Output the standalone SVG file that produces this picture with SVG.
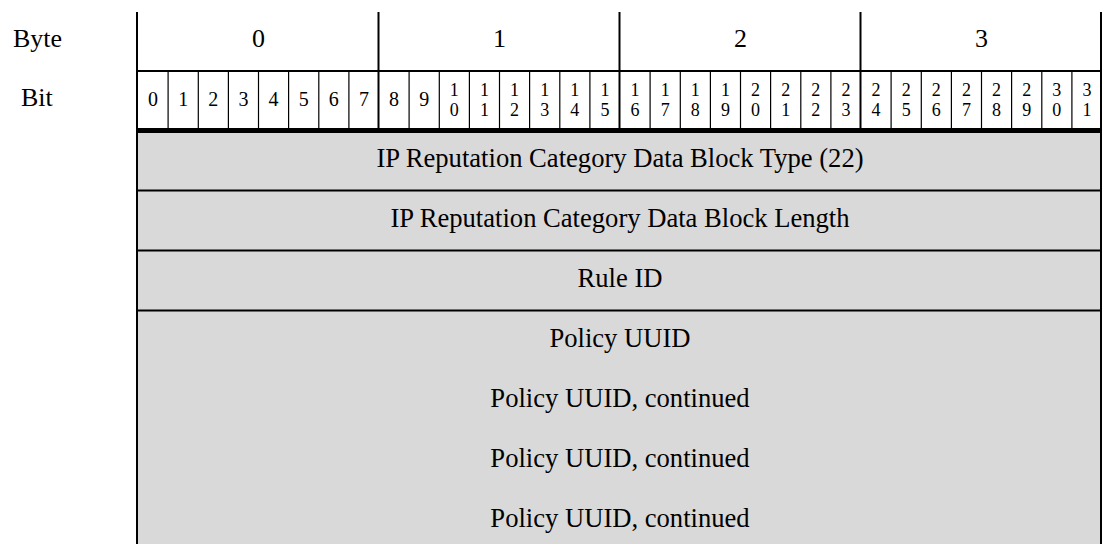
<svg xmlns="http://www.w3.org/2000/svg" width="1103" height="544" viewBox="0 0 1103 544">
<style>
text{font-family:"Liberation Serif","Times New Roman",serif;fill:#000}
.lbl{font-size:26px}
.hd{font-size:26px;text-anchor:middle}
.bit{font-size:20px;text-anchor:middle}
.bit2{font-size:18px;text-anchor:middle}
.fld{font-size:26.6px;text-anchor:middle}
.row{fill:#d9d9d9}
.thin{stroke:#000;stroke-width:1.2}
.med{stroke:#000;stroke-width:2}
</style>
<g id="field-rows">
<rect class="row" x="138" y="132" width="964" height="412"/>
</g>
<g id="labels">
<text class="lbl" x="13" y="47">Byte</text>
<text class="lbl" x="21" y="106">Bit</text>
</g>
<g id="bytes">
<text class="hd" x="258.5" y="47">0</text>
<text class="hd" x="499.5" y="47">1</text>
<text class="hd" x="740.5" y="47">2</text>
<text class="hd" x="981.5" y="47">3</text>
</g>
<g id="bits">
<text class="bit" x="153" y="106">0</text>
<text class="bit" x="183.2" y="106">1</text>
<text class="bit" x="213.3" y="106">2</text>
<text class="bit" x="243.4" y="106">3</text>
<text class="bit" x="273.6" y="106">4</text>
<text class="bit" x="303.7" y="106">5</text>
<text class="bit" x="333.8" y="106">6</text>
<text class="bit" x="363.9" y="106">7</text>
<text class="bit" x="394.1" y="106">8</text>
<text class="bit" x="424.2" y="106">9</text>
<text class="bit2" x="454.3"><tspan x="454.3" y="95.5">1</tspan><tspan x="454.3" y="115.5">0</tspan></text>
<text class="bit2" x="484.4"><tspan x="484.4" y="95.5">1</tspan><tspan x="484.4" y="115.5">1</tspan></text>
<text class="bit2" x="514.6"><tspan x="514.6" y="95.5">1</tspan><tspan x="514.6" y="115.5">2</tspan></text>
<text class="bit2" x="544.7"><tspan x="544.7" y="95.5">1</tspan><tspan x="544.7" y="115.5">3</tspan></text>
<text class="bit2" x="574.8"><tspan x="574.8" y="95.5">1</tspan><tspan x="574.8" y="115.5">4</tspan></text>
<text class="bit2" x="604.9"><tspan x="604.9" y="95.5">1</tspan><tspan x="604.9" y="115.5">5</tspan></text>
<text class="bit2" x="635.1"><tspan x="635.1" y="95.5">1</tspan><tspan x="635.1" y="115.5">6</tspan></text>
<text class="bit2" x="665.2"><tspan x="665.2" y="95.5">1</tspan><tspan x="665.2" y="115.5">7</tspan></text>
<text class="bit2" x="695.3"><tspan x="695.3" y="95.5">1</tspan><tspan x="695.3" y="115.5">8</tspan></text>
<text class="bit2" x="725.4"><tspan x="725.4" y="95.5">1</tspan><tspan x="725.4" y="115.5">9</tspan></text>
<text class="bit2" x="755.6"><tspan x="755.6" y="95.5">2</tspan><tspan x="755.6" y="115.5">0</tspan></text>
<text class="bit2" x="785.7"><tspan x="785.7" y="95.5">2</tspan><tspan x="785.7" y="115.5">1</tspan></text>
<text class="bit2" x="815.8"><tspan x="815.8" y="95.5">2</tspan><tspan x="815.8" y="115.5">2</tspan></text>
<text class="bit2" x="845.9"><tspan x="845.9" y="95.5">2</tspan><tspan x="845.9" y="115.5">3</tspan></text>
<text class="bit2" x="876.1"><tspan x="876.1" y="95.5">2</tspan><tspan x="876.1" y="115.5">4</tspan></text>
<text class="bit2" x="906.2"><tspan x="906.2" y="95.5">2</tspan><tspan x="906.2" y="115.5">5</tspan></text>
<text class="bit2" x="936.3"><tspan x="936.3" y="95.5">2</tspan><tspan x="936.3" y="115.5">6</tspan></text>
<text class="bit2" x="966.4"><tspan x="966.4" y="95.5">2</tspan><tspan x="966.4" y="115.5">7</tspan></text>
<text class="bit2" x="996.6"><tspan x="996.6" y="95.5">2</tspan><tspan x="996.6" y="115.5">8</tspan></text>
<text class="bit2" x="1026.7"><tspan x="1026.7" y="95.5">2</tspan><tspan x="1026.7" y="115.5">9</tspan></text>
<text class="bit2" x="1056.8"><tspan x="1056.8" y="95.5">3</tspan><tspan x="1056.8" y="115.5">0</tspan></text>
<text class="bit2" x="1086.9"><tspan x="1086.9" y="95.5">3</tspan><tspan x="1086.9" y="115.5">1</tspan></text>
</g>
<g id="fields">
<text class="fld" x="620" y="167">IP Reputation Category Data Block Type (22)</text>
<text class="fld" x="620" y="227">IP Reputation Category Data Block Length</text>
<text class="fld" x="620" y="287">Rule ID</text>
<text class="fld" x="620" y="347">Policy UUID</text>
<text class="fld" x="620" y="407">Policy UUID, continued</text>
<text class="fld" x="620" y="467">Policy UUID, continued</text>
<text class="fld" x="620" y="527">Policy UUID, continued</text>
</g>
<g id="grid-lines">
<g class="thin">
<line x1="168.1" y1="71" x2="168.1" y2="130"/>
<line x1="198.3" y1="71" x2="198.3" y2="130"/>
<line x1="228.4" y1="71" x2="228.4" y2="130"/>
<line x1="258.5" y1="71" x2="258.5" y2="130"/>
<line x1="288.6" y1="71" x2="288.6" y2="130"/>
<line x1="318.8" y1="71" x2="318.8" y2="130"/>
<line x1="348.9" y1="71" x2="348.9" y2="130"/>
<line x1="409.1" y1="71" x2="409.1" y2="130"/>
<line x1="439.3" y1="71" x2="439.3" y2="130"/>
<line x1="469.4" y1="71" x2="469.4" y2="130"/>
<line x1="499.5" y1="71" x2="499.5" y2="130"/>
<line x1="529.6" y1="71" x2="529.6" y2="130"/>
<line x1="559.8" y1="71" x2="559.8" y2="130"/>
<line x1="589.9" y1="71" x2="589.9" y2="130"/>
<line x1="650.1" y1="71" x2="650.1" y2="130"/>
<line x1="680.3" y1="71" x2="680.3" y2="130"/>
<line x1="710.4" y1="71" x2="710.4" y2="130"/>
<line x1="740.5" y1="71" x2="740.5" y2="130"/>
<line x1="770.6" y1="71" x2="770.6" y2="130"/>
<line x1="800.8" y1="71" x2="800.8" y2="130"/>
<line x1="830.9" y1="71" x2="830.9" y2="130"/>
<line x1="891.1" y1="71" x2="891.1" y2="130"/>
<line x1="921.3" y1="71" x2="921.3" y2="130"/>
<line x1="951.4" y1="71" x2="951.4" y2="130"/>
<line x1="981.5" y1="71" x2="981.5" y2="130"/>
<line x1="1011.6" y1="71" x2="1011.6" y2="130"/>
<line x1="1041.8" y1="71" x2="1041.8" y2="130"/>
<line x1="1071.9" y1="71" x2="1071.9" y2="130"/>
</g>
<g class="med">
<line x1="137" y1="12" x2="137" y2="544"/>
<line x1="1101" y1="12" x2="1101" y2="544"/>
<line x1="378.5" y1="12" x2="378.5" y2="130"/>
<line x1="619.5" y1="12" x2="619.5" y2="130"/>
<line x1="860.5" y1="12" x2="860.5" y2="130"/>
<line x1="136" y1="71" x2="1102" y2="71"/>
<line x1="136" y1="190.5" x2="1102" y2="190.5"/>
<line x1="136" y1="250.5" x2="1102" y2="250.5"/>
<line x1="136" y1="310.5" x2="1102" y2="310.5"/>
</g>
<line x1="136" y1="130.5" x2="1102" y2="130.5" stroke="#000" stroke-width="5"/>
</g>
</svg>
